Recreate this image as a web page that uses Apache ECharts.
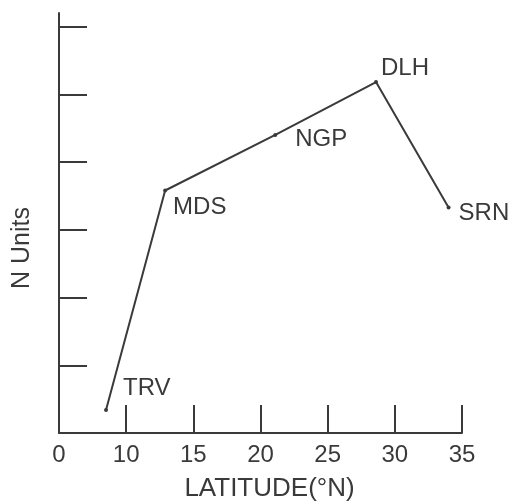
<!DOCTYPE html>
<html>
<head>
<meta charset="utf-8">
<script src="https://cdn.jsdelivr.net/npm/echarts@6/dist/echarts.min.js"></script>
<style>
html,body{margin:0;padding:0;background:#fff;}
#c{width:509px;height:504px;}
</style>
</head>
<body>
<div id="c"></div>
<script>
// Data
const stations = ['TRV', 'MDS', 'NGP', 'DLH', 'SRN'];
const latitudes = [8.5, 12.9, 21.1, 28.6, 34.0];
const nUnits = [0.34, 3.58, 4.4, 5.18, 3.33];
const xTickValues = [10, 15, 20, 25, 30, 35];
const xLabelValues = [5, 10, 15, 20, 25, 30, 35];
const xLabelTexts = ['0', '10', '15', '20', '25', '30', '35'];
const yTickValues = [1, 2, 3, 4, 5, 6];
const xName = 'LATITUDE(°N)';
const yName = 'N Units';

// Styles (label offsets relative to point)
const labelOffsets = [[15, -22], [6, 17], [18, 4], [3, -14], [8, 6]];
const ink = '#3a3a3a';
const font = '"Liberation Sans", Arial, sans-serif';

const chart = echarts.init(document.getElementById('c'), null, {renderer: 'canvas'});
const seriesData = latitudes.map((x, i) => ({
  value: [x, nUnits[i]],
  name: stations[i],
  label: {offset: labelOffsets[i]}
}));

chart.setOption({
  animation: false,
  backgroundColor: '#fff',
  grid: {left: 59, right: 47, top: 13, bottom: 71, containLabel: false, outerBoundsMode: 'none'},
  xAxis: {
    type: 'value',
    min: 5, max: 35, interval: 5,
    name: xName,
    nameLocation: 'middle',
    nameGap: 43,
    nameTextStyle: {fontFamily: font, fontSize: 26, color: ink, padding: [0, 0, 0, 18]},
    axisLine: {show: true, onZero: false, lineStyle: {color: ink, width: 2}},
    axisTick: {show: true, inside: true, length: 28, customValues: xTickValues, lineStyle: {color: ink, width: 2}},
    axisLabel: {
      show: true, margin: 10, customValues: xLabelValues,
      fontFamily: font, fontSize: 24, color: ink,
      formatter: v => xLabelTexts[xLabelValues.indexOf(v)]
    },
    splitLine: {show: false}
  },
  yAxis: {
    type: 'value',
    min: 0, max: 6.2, interval: 1,
    name: yName,
    nameLocation: 'middle',
    nameGap: 24,
    nameTextStyle: {fontFamily: font, fontSize: 25, color: ink, padding: [0, 0, 0, -50]},
    axisLine: {show: true, onZero: false, lineStyle: {color: ink, width: 2}},
    axisTick: {show: true, inside: true, length: 28, customValues: yTickValues, lineStyle: {color: ink, width: 2}},
    axisLabel: {show: false},
    splitLine: {show: false}
  },
  series: [{
    type: 'line',
    data: seriesData,
    symbol: 'circle',
    symbolSize: 4,
    showAllSymbol: true,
    lineStyle: {color: ink, width: 2},
    itemStyle: {color: ink},
    label: {
      show: true,
      position: 'right',
      distance: 0,
      align: 'left',
      verticalAlign: 'middle',
      fontFamily: font,
      fontSize: 24,
      color: ink,
      formatter: p => p.name
    }
  }]
});
</script>
</body>
</html>
